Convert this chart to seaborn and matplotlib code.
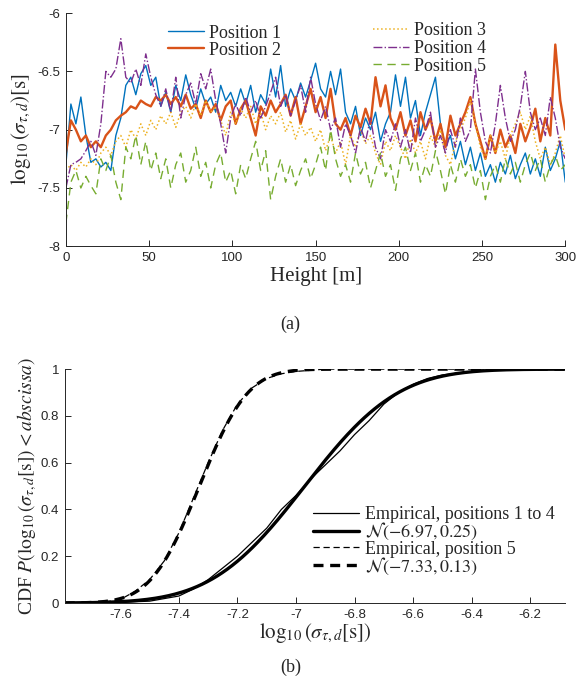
import math
import numpy as np
import pandas as pd
import matplotlib
matplotlib.use("Agg")
import matplotlib.pyplot as plt
import seaborn as sns

height = np.arange(0, 301, 3)

pos1 = [-7.30, -6.78, -6.95, -6.72, -7.05, -7.28, -7.25, -7.32, -7.28, -7.35,
        -7.05, -6.90, -6.62, -6.55, -6.70, -6.52, -6.45, -6.62, -6.55, -6.80,
        -6.68, -6.85, -6.62, -6.75, -6.53, -6.70, -6.82, -6.65, -6.78, -6.72,
        -6.85, -6.62, -6.75, -6.68, -6.80, -6.65, -6.78, -6.62, -6.85, -6.70,
        -6.78, -6.48, -6.72, -6.45, -6.80, -6.65, -6.75, -6.60, -6.72, -6.58,
        -6.43, -6.65, -6.72, -6.50, -6.70, -6.48, -6.85, -6.95, -6.80, -7.05,
        -6.90, -7.00, -6.85, -7.10, -6.95, -6.85, -6.53, -6.80, -6.55, -6.90,
        -6.75, -7.05, -6.85, -6.70, -6.55, -6.95, -7.15, -7.05, -7.25, -7.10,
        -7.30, -7.15, -7.35, -7.20, -7.40, -7.30, -7.45, -7.28, -7.38, -7.22,
        -7.42, -7.30, -7.20, -7.38, -7.25, -7.40, -7.15, -7.35, -7.25, -7.10,
        -7.45]
pos2 = [-7.20, -6.92, -7.00, -7.10, -7.05, -7.15, -7.10, -7.15, -7.05, -7.00,
        -6.92, -6.88, -6.85, -6.80, -6.82, -6.75, -6.78, -6.80, -6.72, -6.75,
        -6.70, -6.78, -6.72, -6.80, -6.70, -6.82, -6.78, -6.90, -6.75, -6.85,
        -6.78, -6.92, -6.80, -6.75, -6.95, -6.82, -6.75, -6.90, -7.05, -6.80,
        -6.88, -6.75, -6.85, -6.78, -6.70, -6.88, -6.72, -6.95, -6.80, -6.65,
        -6.85, -6.72, -6.90, -6.65, -6.95, -7.00, -6.90, -7.05, -6.88, -6.98,
        -6.82, -6.95, -6.55, -6.80, -6.62, -6.90, -7.00, -6.85, -7.05, -6.92,
        -7.10, -6.85, -7.00, -6.90, -7.10, -6.95, -7.15, -6.88, -7.05, -6.95,
        -6.85, -6.72, -6.95, -7.10, -7.25, -7.05, -7.20, -7.00, -7.15, -7.05,
        -7.20, -6.95, -7.10, -6.98, -6.82, -7.10, -6.90, -7.05, -6.27, -6.75,
        -7.00]
pos3 = [-7.35, -7.30, -7.35, -7.28, -7.32, -7.25, -7.30, -7.20, -7.15, -7.22,
        -7.10, -7.05, -7.15, -7.00, -7.08, -6.95, -7.05, -6.92, -7.00, -6.88,
        -6.95, -6.85, -6.98, -6.85, -6.80, -6.90, -6.78, -6.88, -6.75, -6.85,
        -6.80, -6.92, -7.05, -6.85, -6.95, -6.82, -6.90, -6.80, -6.95, -6.85,
        -7.00, -6.88, -6.95, -6.85, -7.02, -6.92, -7.08, -6.95, -7.05, -6.98,
        -7.10, -7.00, -7.18, -7.05, -7.20, -7.10, -7.30, -7.05, -7.15, -7.00,
        -7.12, -7.05, -7.20, -7.30, -7.10, -7.18, -7.05, -7.15, -7.25, -7.08,
        -7.20, -7.10, -7.25, -7.05, -7.15, -7.00, -7.22, -7.30, -7.10, -7.00,
        -6.90, -6.75, -6.95, -7.15, -7.25, -7.05, -7.20, -7.10, -7.25, -7.05,
        -6.95, -6.85, -7.00, -6.88, -7.10, -7.25, -7.15, -7.30, -7.20, -7.05,
        -7.25]
pos4 = [-7.50, -7.30, -7.28, -7.25, -7.18, -7.10, -7.22, -6.95, -6.50, -6.55,
        -6.48, -6.22, -6.55, -6.60, -6.48, -6.62, -6.35, -6.55, -6.70, -6.80,
        -6.65, -6.85, -6.55, -6.90, -6.70, -6.60, -6.78, -6.52, -6.65, -6.48,
        -6.75, -6.95, -7.20, -6.90, -6.78, -6.88, -6.72, -6.85, -6.75, -6.90,
        -6.80, -6.68, -6.55, -6.80, -6.70, -6.88, -6.75, -6.62, -6.85, -6.55,
        -6.78, -6.92, -6.80, -7.00, -6.90, -7.15, -6.95, -7.05, -7.20, -6.98,
        -7.10, -6.90, -7.15, -7.25, -7.00, -7.10, -6.95, -7.15, -7.00, -7.20,
        -6.90, -7.10, -7.00, -6.85, -7.15, -7.05, -7.20, -7.00, -7.15, -6.90,
        -7.10, -7.00, -6.48, -6.85, -7.10, -7.20, -6.95, -6.62, -6.90, -7.10,
        -7.00, -6.80, -6.50, -6.85, -7.00, -6.90, -7.05, -6.72, -6.90, -7.15,
        -7.25]
pos5 = [-7.80, -7.45, -7.35, -7.50, -7.40, -7.48, -7.55, -7.25, -7.35, -7.22,
        -7.45, -7.60, -7.15, -7.25, -7.05, -7.30, -7.10, -7.35, -7.20, -7.42,
        -7.25, -7.50, -7.30, -7.20, -7.45, -7.35, -7.15, -7.40, -7.28, -7.50,
        -7.30, -7.20, -7.45, -7.35, -7.55, -7.30, -7.42, -7.25, -7.10, -7.35,
        -7.18, -7.60, -7.40, -7.25, -7.45, -7.30, -7.48, -7.35, -7.25, -7.42,
        -7.30, -7.15, -7.35, -7.00, -7.25, -7.40, -7.30, -7.45, -7.20, -7.38,
        -7.28, -7.50, -7.35, -7.20, -7.40, -7.30, -7.52, -7.25, -7.15, -7.35,
        -7.20, -7.45, -7.30, -7.40, -7.18, -7.35, -7.55, -7.30, -7.45, -7.25,
        -7.40, -7.30, -7.50, -7.35, -7.60, -7.40, -7.30, -7.45, -7.25, -7.38,
        -7.28, -7.45, -7.30, -7.20, -7.35, -7.25, -7.45, -7.30, -7.22, -7.35,
        -7.30]

# empirical CDFs
emp14_x = [-7.79, -7.60, -7.50, -7.40, -7.35, -7.30, -7.25, -7.20, -7.15, -7.10,
           -7.05, -7.00, -6.95, -6.90, -6.85, -6.80, -6.75, -6.70, -6.65, -6.60,
           -6.55, -6.50, -6.40, -6.30, -6.20, -6.08]
emp14_p = [0.0, 0.003, 0.008, 0.03, 0.06, 0.10, 0.15, 0.20, 0.26, 0.32,
           0.40, 0.46, 0.53, 0.59, 0.65, 0.72, 0.78, 0.85, 0.90, 0.935,
           0.96, 0.975, 0.99, 0.997, 1.0, 1.0]
emp5_x = [-7.79, -7.65, -7.60, -7.55, -7.50, -7.45, -7.40, -7.35, -7.30, -7.25,
          -7.20, -7.15, -7.10, -7.05, -7.00, -6.90, -6.08]
emp5_p = [0.0, 0.005, 0.015, 0.05, 0.10, 0.18, 0.30, 0.45, 0.60, 0.74,
          0.85, 0.92, 0.96, 0.98, 0.99, 1.0, 1.0]

# fitted normal parameters from the legend
mu14, sd14 = -6.97, 0.25
mu5, sd5 = -7.33, 0.13

colors = ["#0072BD", "#D95319", "#EDB120", "#7E2F8E", "#77AC30"]

sns.set_style("ticks")
plt.rcParams['font.family'] = ['Liberation Serif', 'DejaVu Serif']
plt.rcParams['mathtext.fontset'] = 'stix'
plt.rcParams['axes.unicode_minus'] = False
plt.rcParams['xtick.direction'] = 'in'
plt.rcParams['ytick.direction'] = 'in'

fig = plt.figure(figsize=(5.78, 6.88), dpi=100)
ax1 = fig.add_axes([0.114, 0.642, 0.864, 0.339])
ax2 = fig.add_axes([0.112, 0.1235, 0.866, 0.340])

# ---- panel (a)
df = pd.DataFrame({"h": height, "p1": pos1, "p2": pos2, "p3": pos3,
                   "p4": pos4, "p5": pos5})
styles = [("p1", "Position 1", "-", 1.0), ("p2", "Position 2", "-", 1.7),
          ("p3", "Position 3", ":", 1.1), ("p4", "Position 4", "-.", 1.0),
          ("p5", "Position 5", (0, (6, 4)), 1.0)]
for (col, lab, ls, lw), c in zip(styles, colors):
    sns.lineplot(data=df, x="h", y=col, ax=ax1, color=c, linestyle=ls,
                 linewidth=lw, label=lab, legend=False)

ax1.set_xlim(0, 300)
ax1.set_ylim(-8, -6)
ax1.set_xticks([0, 50, 100, 150, 200, 250, 300])
ax1.set_yticks([-8, -7.5, -7, -6.5, -6])
ax1.set_yticklabels(["-8", "-7.5", "-7", "-6.5", "-6"])
ax1.set_xlabel("Height [m]", fontsize=15, labelpad=2)
ax1.set_ylabel(r"$\log_{10}(\sigma_{\tau,d})[\mathrm{s}]$", fontsize=15, labelpad=3)

h = ax1.get_lines()
leg_a1 = ax1.legend(h[:2], ["Position 1", "Position 2"], loc="upper left",
                    bbox_to_anchor=(0.205, 0.95), frameon=False, fontsize=13,
                    labelspacing=0.0, handlelength=2.0, handletextpad=0.25,
                    borderpad=0, borderaxespad=0)
ax1.add_artist(leg_a1)
ax1.legend(h[2:], ["Position 3", "Position 4", "Position 5"], loc="upper left",
           bbox_to_anchor=(0.615, 0.962), frameon=False, fontsize=13,
           labelspacing=0.05, handlelength=2.0, handletextpad=0.25,
           borderpad=0, borderaxespad=0)

# ---- panel (b)
xs = np.linspace(-7.79, -6.08, 300)
cdf14 = [0.5 * (1 + math.erf((v - mu14) / (sd14 * math.sqrt(2)))) for v in xs]
cdf5 = [0.5 * (1 + math.erf((v - mu5) / (sd5 * math.sqrt(2)))) for v in xs]

sns.lineplot(x=emp14_x, y=emp14_p, ax=ax2, color="black", linewidth=0.9,
             label="Empirical, positions 1 to 4")
sns.lineplot(x=xs, y=cdf14, ax=ax2, color="black", linewidth=2.4,
             label=r"$\mathcal{N}(-6.97, 0.25)$")
sns.lineplot(x=emp5_x, y=emp5_p, ax=ax2, color="black", linewidth=0.9,
             linestyle=(0, (5, 3)), label="Empirical, position 5")
sns.lineplot(x=xs, y=cdf5, ax=ax2, color="black", linewidth=2.4,
             linestyle=(0, (3, 2)), label=r"$\mathcal{N}(-7.33, 0.13)$")

ax2.set_xlim(-7.79, -6.08)
ax2.set_ylim(0, 1)
ax2.set_xticks([-7.6, -7.4, -7.2, -7.0, -6.8, -6.6, -6.4, -6.2])
ax2.set_xticklabels(["-7.6", "-7.4", "-7.2", "-7", "-6.8", "-6.6", "-6.4", "-6.2"])
ax2.set_yticks([0, 0.2, 0.4, 0.6, 0.8, 1])
ax2.set_yticklabels(["0", "0.2", "0.4", "0.6", "0.8", "1"])
ax2.set_xlabel(r"$\log_{10}(\sigma_{\tau,d}[\mathrm{s}])$", fontsize=15, labelpad=1)
ax2.set_ylabel(r"CDF $P(\log_{10}(\sigma_{\tau,d}[\mathrm{s}]) < abscissa)$",
               fontsize=14, labelpad=1)
ax2.legend(loc="upper left", bbox_to_anchor=(0.495, 0.415), frameon=False,
           fontsize=13, labelspacing=-0.1, handlelength=2.6, handletextpad=0.3,
           borderpad=0, borderaxespad=0)

for ax in (ax1, ax2):
    sns.despine(ax=ax)
    for s in ("left", "bottom"):
        ax.spines[s].set_color("#262626")
        ax.spines[s].set_linewidth(0.7)
    ax.tick_params(length=4, width=0.7, color="#262626", labelsize=9.5, pad=4)
    for t in ax.get_xticklabels() + ax.get_yticklabels():
        t.set_fontfamily("Liberation Sans")
        t.set_color("#262626")

fig.text(0.503, 0.529, "(a)", ha="center", va="center", fontsize=13)
fig.text(0.503, 0.030, "(b)", ha="center", va="center", fontsize=13)

fig.savefig("out.png", dpi=100)
